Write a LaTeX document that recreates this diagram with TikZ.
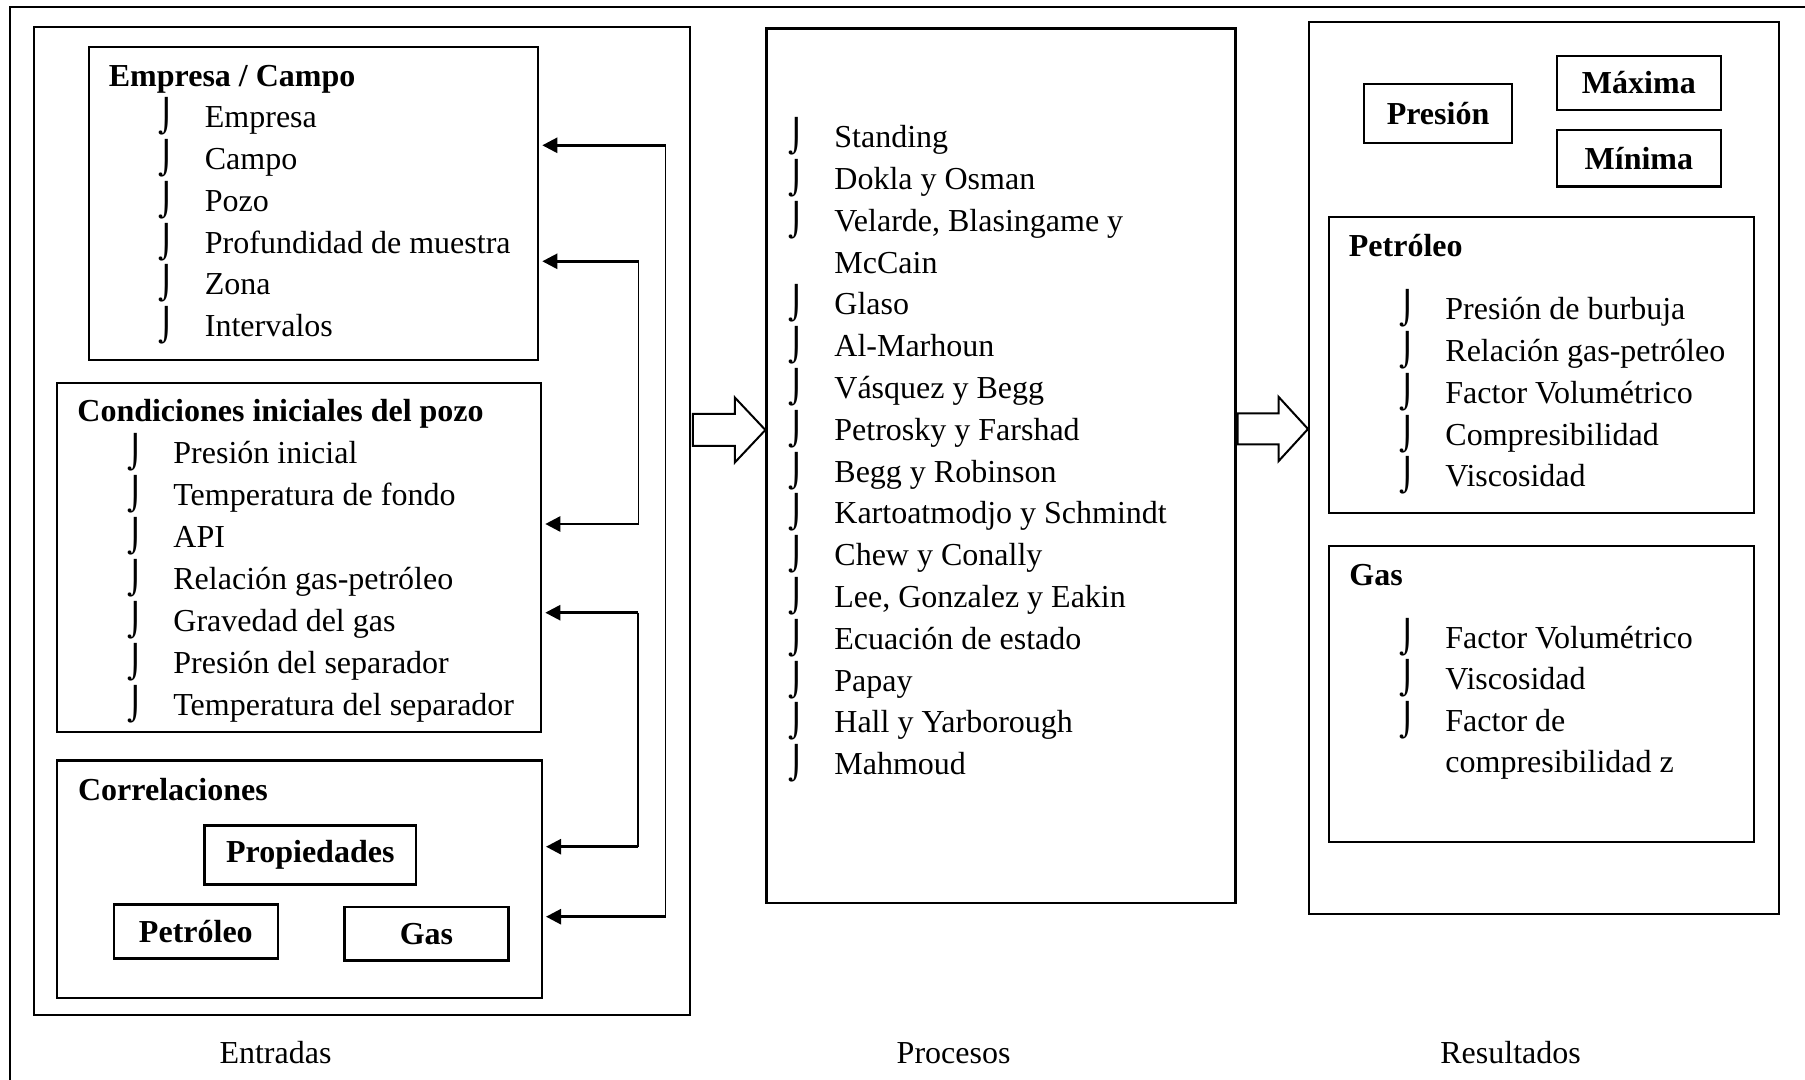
\documentclass[tikz,border=0pt]{standalone}
\usepackage{fontspec}
\setmainfont{Liberation Serif}
\newfontfamily\symfam{DejaVu Sans}
\usetikzlibrary{arrows.meta, positioning, calc}

\tikzset{
  frame/.style={draw, line width=1.15pt, inner sep=0pt, anchor=north west},
  tagbox/.style={frame, font=\bfseries},
  title/.style={anchor=base west, inner sep=0pt, font=\bfseries},
  item/.style={anchor=base west, inner sep=0pt},
  bul/.style={anchor=base west, inner sep=0pt, font=\symfam},
  vline/.style={line width=0.6pt},
  feed/.style={line width=1.3pt, -{Triangle[length=7.5pt,width=7.5pt]}, shorten >=1.5pt},
  hollow/.style={line width=1pt, fill=white, line join=miter},
}

\begin{document}
\fontsize{16pt}{20.9pt}\selectfont
\begin{tikzpicture}[x=0.5pt, y=-0.5pt]
  \useasboundingbox (0,0) rectangle (1805,1080);
  % outer frame, only top and left edge fall inside the page
  \draw[line width=1pt] (1805,7) -- (10,7) -- (10,1080);

  % Entradas
  \node[frame, minimum width=328pt, minimum height=494pt] (entradas) at (33,26) {};
  \node[frame, minimum width=224.5pt, minimum height=156.65pt] (empresa) at (88,45.7) {};
  \node[frame, minimum width=242.25pt, minimum height=174.5pt] (condic) at (55.5,382) {};
  \node[frame, minimum width=242.5pt, minimum height=118.7pt] (correl) at (55.7,759.3) {};
  \node[tagbox, minimum width=105.85pt, minimum height=29.5pt] (propied) at (203.3,824.3) {Propiedades};
  \node[tagbox, minimum width=82pt, minimum height=27pt] (corrpet) at (112.7,903.3) {Petróleo};
  \node[tagbox, minimum width=82pt, minimum height=26.8pt] (corrgas) at (343.3,905.7) {Gas};

  \node[title] (empT) at (108.5,87) {Empresa / Campo};
  \foreach \t [count=\i from 0] in {Empresa, Campo, Pozo, Profundidad de muestra, Zona, Intervalos}{
    \node[bul] (empB\i) at (158.5,127.7+41.8*\i) {⌡};
    \node[item] (empI\i) at (204.5,127.7+41.8*\i) {\t};
  }
  \node[title] (condT) at (77,422) {Condiciones iniciales del pozo};
  \foreach \t [count=\i from 0] in {Presión inicial, Temperatura de fondo, API, Relación gas-petróleo,
      Gravedad del gas, Presión del separador, Temperatura del separador}{
    \node[bul] (condB\i) at (127,463.6+42*\i) {⌡};
    \node[item] (condI\i) at (173,463.6+42*\i) {\t};
  }
  \node[title] (corrT) at (77.7,800) {Correlaciones};

  % Procesos
  \node[frame, minimum width=234.5pt, minimum height=437.35pt] (procesos) at (765.4,27.3) {};
  \foreach \t [count=\i from 0] in {Standing, Dokla y Osman, {Velarde, Blasingame y}, McCain, Glaso,
      Al-Marhoun, Vásquez y Begg, Petrosky y Farshad, Begg y Robinson, Kartoatmodjo y Schmindt,
      Chew y Conally, {Lee, Gonzalez y Eakin}, Ecuación de estado, Papay, Hall y Yarborough, Mahmoud}{
    \node[item] (procI\i) at (834,147.7+41.8*\i) {\t};
  }
  \foreach \i in {0,1,2,4,5,...,15}{
    \node[bul] (procB\i) at (788.3,147.7+41.8*\i) {⌡};
  }

  % Resultados
  \node[frame, minimum width=234.75pt, minimum height=446.15pt] (resultados) at (1308,20.7) {};
  \node[tagbox, minimum width=74.1pt, minimum height=29.5pt] (presion) at (1362.8,83) {Presión};
  \node[tagbox, minimum width=82pt, minimum height=27.15pt] (maxima) at (1555.7,54.7) {Máxima};
  \node[tagbox, minimum width=82pt, minimum height=28.15pt] (minima) at (1555.7,129) {Mínima};
  \node[frame, minimum width=212.4pt, minimum height=148pt] (respet) at (1327.7,216) {};
  \node[frame, minimum width=212.4pt, minimum height=148pt] (resgas) at (1327.7,545) {};

  \node[title] (petT) at (1348.5,256.7) {Petróleo};
  \foreach \t [count=\i from 0] in {Presión de burbuja, Relación gas-petróleo, Factor Volumétrico,
      Compresibilidad, Viscosidad}{
    \node[bul] (petB\i) at (1399,320+41.7*\i) {⌡};
    \node[item] (petI\i) at (1445,320+41.7*\i) {\t};
  }
  \node[title] (gasT) at (1349,585) {Gas};
  \foreach \t [count=\i from 0] in {Factor Volumétrico, Viscosidad, Factor de, compresibilidad z}{
    \node[item] (gasI\i) at (1445,648+41.5*\i) {\t};
  }
  \foreach \i in {0,1,2}{
    \node[bul] (gasB\i) at (1399,648+41.5*\i) {⌡};
  }

  % hollow arrows between the three blocks
  \coordinate (ya) at (0,430);
  \coordinate (yb) at (0,429);
  \draw[hollow] (entradas.east |- ya) ++(1.5,-16) -- ++(42,0) -- ++(0,-16.5) -- (procesos.west |- ya)
    -- ($(entradas.east |- ya)+(43.5,32.5)$) -- ++(0,-16.5) -- ++(-42,0) -- cycle;
  \draw[hollow] (procesos.east |- yb) ++(1,-15.5) -- ++(41,0) -- ++(0,-16.5) -- (resultados.west |- yb)
    -- ($(procesos.east |- yb)+(42,32)$) -- ++(0,-16.5) -- ++(-41,0) -- cycle;

  % feedback lines on the right of Entradas
  \coordinate (fa1) at (665.7,145.3);
  \coordinate (fa2) at (665.7,916.7);
  \coordinate (fb1) at (638.5,261.3);
  \coordinate (fb2) at (638.5,524);
  \coordinate (fc1) at (638,612.7);
  \coordinate (fc2) at (638,846.7);
  \draw[vline] (fa1) -- (fa2);
  \draw[vline] (fb1) -- (fb2);
  \draw[vline] (fc1) -- (fc2);
  \draw[feed] (fa1) -- (fa1 -| empresa.east);
  \draw[feed] (fb1) -- (fb1 -| empresa.east);
  \draw[feed] (fb2) -- (fb2 -| condic.east);
  \draw[feed] (fc1) -- (fc1 -| condic.east);
  \draw[feed] (fc2) -- (fc2 -| correl.east);
  \draw[feed] (fa2) -- (fa2 -| correl.east);

  % captions
  \node[anchor=base] (labE) at (275.5,1063) {Entradas};
  \node[anchor=base] (labP) at (953.6,1063) {Procesos};
  \node[anchor=base] (labR) at (1510.6,1063) {Resultados};
\end{tikzpicture}
\end{document}
